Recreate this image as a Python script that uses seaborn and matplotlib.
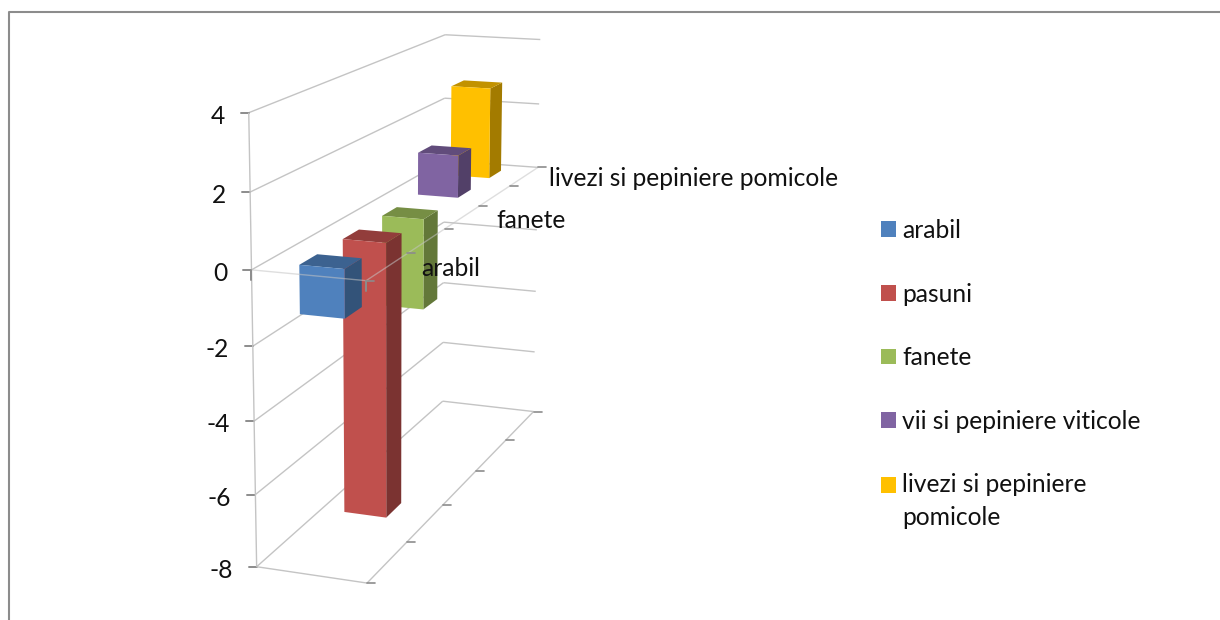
import numpy as np
import seaborn as sns
import matplotlib.pyplot as plt
from matplotlib.patches import Patch

series = ['arabil', 'pasuni', 'fanete', 'vii si pepiniere viticole', 'livezi si pepiniere pomicole']
values = [-1.3, -7.75, -2.6, 1.25, 2.75]
colors = ['#4F81BD', '#C0504D', '#9BBB59', '#8064A2', '#FFC000']
value_ticks = [4, 2, 0, -2, -4, -6, -8]
depth_labels = ['arabil', 'fanete', 'livezi si pepiniere pomicole']

sns.set_style('white')
plt.rcParams['font.family'] = ['Lato', 'DejaVu Sans']

TICK = '#8C8C8C'
TEXT = '#111111'
FONT = 17.7

# where the corners of the 3d box land on the page: (across, depth, value) -> pixel
box_corners = [(0, 0, 4), (0, 0, 0), (0, 0, -8), (0, 1, 4), (0, 1, 0), (0, 1, -8),
               (1, 1, 4), (1, 1, 0), (1, 1, -8), (1, 0, 0), (1, 0, -8)]
box_pixels = [(248, 113), (252, 270), (257, 567), (445, 35), (444, 160), (443, 401),
              (541, 40), (538, 167), (533, 412), (366, 280), (367, 583)]


def fit_camera(corners, pixels):
    rows = []
    for (u, d, v), (px, py) in zip(corners, pixels):
        px, py = px / 1000, py / 1000
        rows.append([u, d, v, 1, 0, 0, 0, 0, -px * u, -px * d, -px * v, -px])
        rows.append([0, 0, 0, 0, u, d, v, 1, -py * u, -py * d, -py * v, -py])
    return np.linalg.svd(np.array(rows, dtype=float))[2][-1].reshape(3, 4)


camera = fit_camera(box_corners, box_pixels)


def project(u, d, v):
    x, y, w = camera @ np.array([u, d, v, 1.0])
    return 1000 * x / w, 1000 * y / w


def line3d(ax, a, b, color='#C4C4C4', lw=1.0, zorder=1, alpha=1):
    p, q = project(*a), project(*b)
    ax.plot([p[0], q[0]], [p[1], q[1]], color=color, lw=lw, zorder=zorder, alpha=alpha,
            solid_capstyle='butt')


def face(ax, pts, color, zorder):
    ax.fill(*zip(*[project(*p) for p in pts]), color=color, lw=0, zorder=zorder)


def bar3d(ax, slot, value, color, zorder):
    u0, u1 = 0.30, 0.70
    d0, d1 = (slot + 0.3) / 5, (slot + 0.7) / 5
    top, bottom = max(value, 0), min(value, 0)
    base = sns.color_palette([color])[0]
    dark = tuple(c * 0.64 for c in base)
    mid = tuple(c * 0.76 for c in base)
    face(ax, [(u1, d0, top), (u1, d1, top), (u1, d1, bottom), (u1, d0, bottom)], dark, zorder)
    face(ax, [(u0, d0, top), (u1, d0, top), (u1, d1, top), (u0, d1, top)], mid, zorder)
    face(ax, [(u0, d0, top), (u1, d0, top), (u1, d0, bottom), (u0, d0, bottom)], color, zorder)


fig = plt.figure(figsize=(12.2, 6.2), dpi=100)
ax = fig.add_axes([0, 0, 1, 1])
ax.set_xlim(0, 1220)
ax.set_ylim(620, 0)
ax.axis('off')

# outer frame of the pasted chart
ax.plot([9, 9, 1220], [620, 12, 12], color=TICK, lw=1.5, zorder=0)

# walls and floor
for v in value_ticks:
    line3d(ax, (0, 0, v), (0, 1, v))
    line3d(ax, (0, 1, v), (1, 1, v))
    px, py = project(0, 0, v)
    ax.plot([px - 8, px], [py, py], color=TICK, lw=1.4, zorder=1)
    ax.text(px - 24, py + 3.5, str(v), ha='right', va='center', fontsize=FONT, color=TEXT)
line3d(ax, (0, 0, 4), (0, 0, -8))
line3d(ax, (0, 0, -8), (1, 0, -8))
line3d(ax, (1, 0, -8), (1, 1, -8))

for i in range(6):
    px, py = project(1, i / 5, -8)
    ax.plot([px, px + 8], [py, py], color=TICK, lw=1.2, zorder=1)

# bars, back one first
for slot in range(len(values) - 1, -1, -1):
    bar3d(ax, slot, values[slot], colors[slot], zorder=2 + len(values) - slot)

# zero plane sits over the bars
line3d(ax, (0, 0, 0), (1, 0, 0), zorder=9, alpha=0.55)
line3d(ax, (1, 0, 0), (1, 1, 0), zorder=9, alpha=0.55)
for i in range(6):
    px, py = project(1, i / 5, 0)
    ax.plot([px, px + 8], [py, py], color=TICK, lw=1.2, zorder=9)
# short drop marks where the category axis starts and ends
for u in [0, 1]:
    px, py = project(u, 0, 0)
    ax.plot([px, px], [py, py + 10], color=TICK, lw=1.4, zorder=9)

depth_label_x = [421, 496, 549]
depth_label_y = [269, 221, 179]
for label, x, y in zip(depth_labels, depth_label_x, depth_label_y):
    ax.text(x, y, label, ha='left', va='center', fontsize=FONT, color=TEXT, zorder=10)

legend_labels = [s.replace('si pepiniere pomicole', 'si pepiniere\npomicole') for s in series]
handles = [Patch(facecolor=c, edgecolor='none') for c in colors]
leg = ax.legend(handles, legend_labels, loc='upper left', bbox_to_anchor=(881 / 1220, 1 - 219 / 620),
                frameon=False, fontsize=FONT, handlelength=0.62, handleheight=0.62, handletextpad=0.24,
                labelspacing=1.65, borderpad=0, borderaxespad=0, labelcolor=TEXT)
for t in leg.get_texts():
    t.set_linespacing(1.5)
# two-line entry: square stays level with the first line
leg.get_patches()[-1].set_y(leg.get_patches()[-1].get_y() + 11.9)

fig.savefig('out.png', dpi=100)
